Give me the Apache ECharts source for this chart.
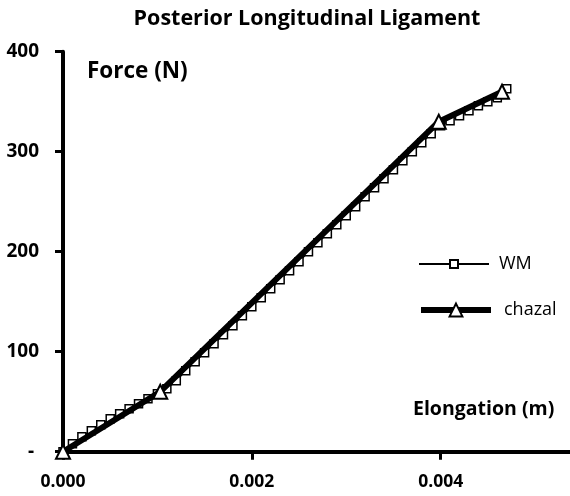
<!DOCTYPE html>
<html><head><meta charset="utf-8">
<script src="https://cdn.jsdelivr.net/npm/echarts@6/dist/echarts.min.js"></script>
<style>html,body{margin:0;padding:0;background:#fff}#c{width:570px;height:496px}</style>
</head><body><div id="c"></div>
<script>
const titleText = 'Posterior Longitudinal Ligament';
const yTitle = 'Force (N)';
const xTitle = 'Elongation (m)';
const seriesNames = ['WM', 'chazal'];
const wmX = [0,0.0001,0.0002,0.0003,0.0004,0.0005,0.0006,0.0007,0.0008,0.0009,
  0.0010,0.0011,0.0012,0.0013,0.0014,0.0015,0.0016,0.0017,0.0018,0.0019,
  0.0020,0.0021,0.0022,0.0023,0.0024,0.0025,0.0026,0.0027,0.0028,0.0029,
  0.0030,0.0031,0.0032,0.0033,0.0034,0.0035,0.0036,0.0037,0.0038,0.0039,
  0.0040,0.0041,0.0042,0.0043,0.0044,0.0045,0.0046,0.0047];
const wmY = [0,8,15,21,27,33,38,43,48,53,
  58,63,71,81,90,99,108,117,126,136,
  145,154,163,172,181,190,200,209,218,227,
  236,245,255,264,273,282,291,300,309,318,
  326,331,336,341,346,350,354,363];
const chazalX = [0, 0.00103, 0.00398, 0.00465];
const chazalY = [0, 60, 330, 360];
const yTicks = [0, 100, 200, 300, 400];
const xTicks = [0, 0.002, 0.004];

const FONT = 'Open Sans';
const chart = echarts.init(document.getElementById('c'), null, {renderer: 'canvas'});
const pairs = (xs, ys) => xs.map((x, i) => [x, ys[i]]);
chart.setOption({
  animation: false,
  backgroundColor: '#fff',
  title: {
    text: titleText, left: 302, top: 3, textAlign: 'center',
    textStyle: {fontFamily: FONT, fontWeight: 'bold', fontSize: 21.5, color: '#000'}
  },
  grid: {left: 63, right: 0, top: 51.7, bottom: 44.3, containLabel: false},
  xAxis: {
    type: 'value', min: 0, max: 0.00537, interval: 0.002,
    axisLine: {lineStyle: {color: '#000', width: 4}},
    axisTick: {show: true, length: 8, lineStyle: {color: '#000', width: 3},
      customValues: xTicks},
    splitLine: {show: false},
    axisLabel: {
      customValues: xTicks,
      margin: 21, fontFamily: FONT, fontWeight: 'bold', fontSize: 17.5, color: '#000',
      formatter: v => v.toFixed(3)
    }
  },
  yAxis: {
    type: 'value', min: 0, max: 400, interval: 100,
    axisLine: {lineStyle: {color: '#000', width: 4}},
    axisTick: {show: true, length: 8, lineStyle: {color: '#000', width: 3},
      customValues: yTicks},
    splitLine: {show: false},
    axisLabel: {
      customValues: yTicks,
      margin: 24, fontFamily: FONT, fontWeight: 'bold', fontSize: 19, color: '#000',
      formatter: v => (v === 0 ? '- ' : String(v))
    }
  },
  legend: [
    {data: [seriesNames[0]], orient: 'vertical', left: 413, top: 250,
      itemWidth: 70, itemHeight: 10,
      lineStyle: {width: 2, color: '#000'},
      textStyle: {fontFamily: FONT, fontSize: 18, color: '#000', padding: [0, 0, 0, 5]}},
    {data: [seriesNames[1]], orient: 'vertical', left: 413, top: 296,
      itemWidth: 70, itemHeight: 16,
      lineStyle: {width: 6, color: '#000'},
      textStyle: {fontFamily: FONT, fontSize: 18, color: '#000', padding: [0, 0, 0, 8]}}
  ],
  graphic: [
    {type: 'text', left: 87, top: 60,
      style: {text: yTitle, fontFamily: FONT, fontWeight: 'bold', fontSize: 22.5, fill: '#000'}},
    {type: 'text', left: 413, top: 399,
      style: {text: xTitle, fontFamily: FONT, fontWeight: 'bold', fontSize: 19.5, fill: '#000'}}
  ],
  series: [
    {name: seriesNames[0], type: 'line', data: pairs(wmX, wmY), z: 2,
      symbol: 'rect', symbolSize: 8, showAllSymbol: true,
      lineStyle: {color: '#000', width: 1.5},
      itemStyle: {color: '#fff', borderColor: '#000', borderWidth: 1.5}},
    {name: seriesNames[1], type: 'line', data: pairs(chazalX, chazalY), z: 3,
      symbol: 'triangle', symbolSize: 14,
      lineStyle: {color: '#000', width: 6},
      itemStyle: {color: '#fff', borderColor: '#000', borderWidth: 2}}
  ]
});
</script></body></html>
